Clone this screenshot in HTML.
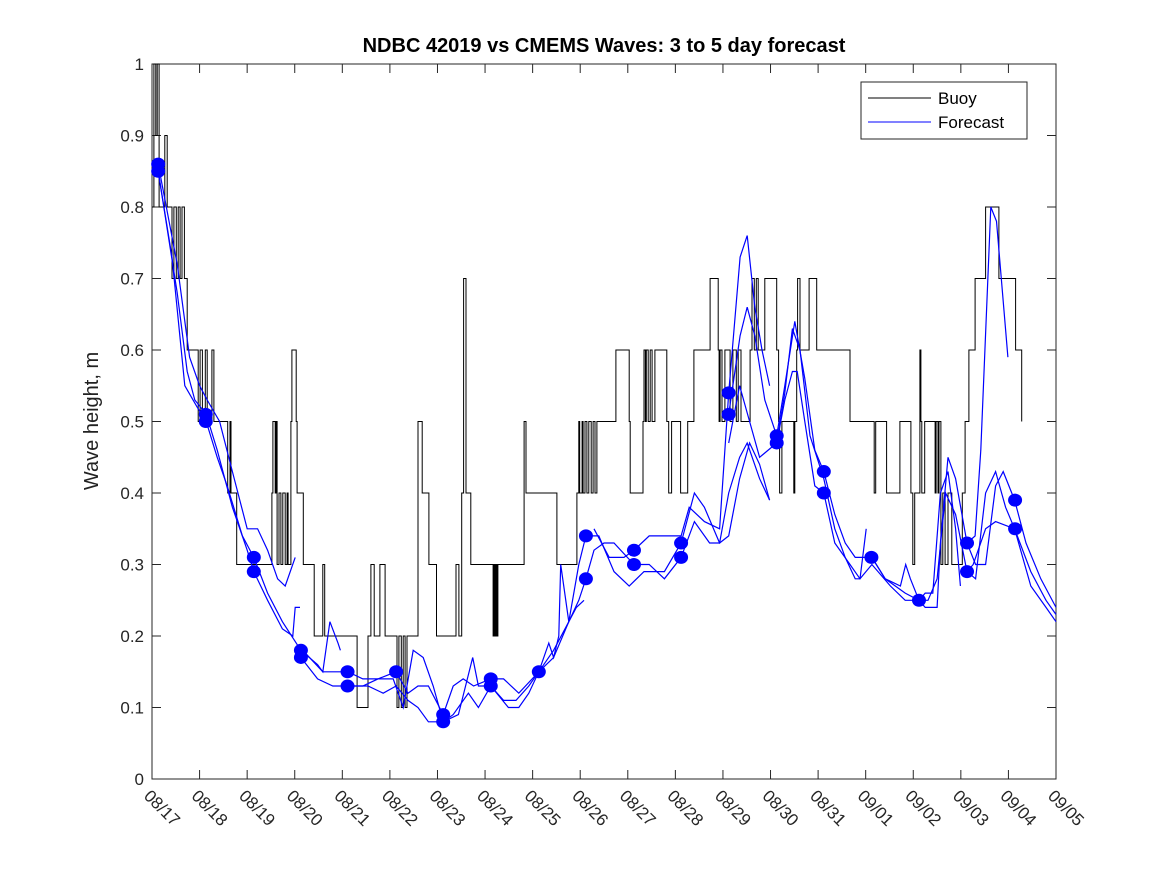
<!DOCTYPE html>
<html><head><meta charset="utf-8"><style>
html,body{margin:0;padding:0;background:#fff;}
svg{display:block;font-family:"Liberation Sans","DejaVu Sans",sans-serif;}
</style></head><body>
<svg id="chart" width="1167" height="875" viewBox="0 0 1167 875" xmlns="http://www.w3.org/2000/svg">
<rect width="1167" height="875" fill="#fff"/>
<text x="604" y="52" text-anchor="middle" font-size="20" font-weight="bold" fill="#000">NDBC 42019 vs CMEMS Waves: 3 to 5 day forecast</text>
<text transform="translate(98,421) rotate(-90)" text-anchor="middle" font-size="20" fill="#222">Wave height, m</text>
<g id="plot"></g>
</svg>
<script>
const xTickLabels=["08/17","08/18","08/19","08/20","08/21","08/22","08/23","08/24","08/25","08/26","08/27","08/28","08/29","08/30","08/31","09/01","09/02","09/03","09/04","09/05"];
const yTicks=[0,0.1,0.2,0.3,0.4,0.5,0.6,0.7,0.8,0.9,1];
const yTickLabels=["0","0.1","0.2","0.3","0.4","0.5","0.6","0.7","0.8","0.9","1"];
const buoyDays=[0,0.04,0.08,0.11,0.15,0.27,0.32,0.42,0.46,0.51,0.55,0.59,0.63,0.68,0.74,0.97,1.01,1.06,1.12,1.16,1.26,1.30,1.59,1.64,1.66,1.78,2.52,2.54,2.59,2.61,2.63,2.67,2.71,2.75,2.80,2.84,2.86,2.92,2.94,3.03,3.05,3.18,3.41,3.59,3.63,4.31,4.54,4.60,4.67,4.79,4.90,5.15,5.19,5.24,5.28,5.32,5.36,5.59,5.68,5.82,5.98,6.39,6.45,6.51,6.55,6.60,6.70,7.17,7.19,7.21,7.23,7.25,7.27,7.82,7.86,8.51,8.93,8.97,8.99,9.04,9.06,9.10,9.14,9.18,9.23,9.27,9.31,9.35,9.56,9.75,10.03,10.05,10.32,10.34,10.37,10.39,10.43,10.47,10.51,10.57,10.82,10.86,10.92,11.11,11.26,11.39,11.73,11.90,11.92,11.94,11.98,12.04,12.15,12.21,12.28,12.32,12.38,12.57,12.59,12.61,12.66,12.70,12.74,12.88,13.13,13.17,13.19,13.24,13.49,13.51,13.55,13.57,13.62,13.81,13.97,14.63,14.67,15.18,15.21,15.44,15.72,15.95,15.99,16.03,16.14,16.16,16.18,16.24,16.46,16.48,16.52,16.54,16.58,16.62,16.67,16.73,16.81,17.03,17.09,17.17,17.30,17.52,17.80,18.15,18.28];
const buoyValues=[0.8,1.0,0.9,1.0,0.8,0.9,0.8,0.7,0.8,0.7,0.8,0.7,0.8,0.7,0.6,0.5,0.6,0.5,0.6,0.5,0.6,0.5,0.4,0.5,0.4,0.3,0.4,0.5,0.4,0.5,0.3,0.4,0.3,0.4,0.3,0.4,0.3,0.5,0.6,0.5,0.4,0.3,0.2,0.3,0.2,0.1,0.2,0.3,0.2,0.3,0.2,0.1,0.2,0.1,0.2,0.1,0.2,0.5,0.4,0.3,0.2,0.3,0.2,0.4,0.7,0.4,0.3,0.2,0.3,0.2,0.3,0.2,0.3,0.5,0.4,0.3,0.4,0.5,0.4,0.5,0.4,0.5,0.4,0.5,0.4,0.5,0.4,0.5,0.5,0.6,0.5,0.4,0.5,0.6,0.5,0.6,0.5,0.6,0.5,0.6,0.5,0.4,0.5,0.4,0.5,0.6,0.7,0.6,0.5,0.6,0.5,0.6,0.5,0.6,0.5,0.6,0.5,0.6,0.6,0.7,0.6,0.7,0.6,0.7,0.6,0.5,0.4,0.5,0.4,0.5,0.6,0.7,0.6,0.7,0.6,0.6,0.5,0.4,0.5,0.4,0.5,0.4,0.3,0.4,0.6,0.5,0.4,0.5,0.4,0.5,0.4,0.5,0.3,0.4,0.3,0.4,0.3,0.4,0.5,0.6,0.7,0.8,0.7,0.6,0.5,0.4,0.5,0.5];
const fc01=[[0.13,0.86],[0.53,0.72],[0.79,0.59],[1.0,0.55],[1.16,0.53],[1.42,0.5],[1.69,0.43],[2.0,0.35],[2.22,0.35],[2.43,0.32],[2.64,0.28],[2.8,0.27],[3.01,0.31]];
const fc02=[[0.13,0.85],[0.53,0.68],[0.74,0.57],[0.9,0.53],[1.14,0.51],[1.37,0.46],[1.69,0.38],[2.0,0.32],[2.14,0.29],[2.43,0.25],[2.74,0.21],[2.96,0.2],[3.01,0.24],[3.11,0.24]];
const fc03=[[0.13,0.85],[0.42,0.73],[0.69,0.55],[0.95,0.52],[1.14,0.50],[1.37,0.45],[1.58,0.41],[1.9,0.34],[2.14,0.31],[2.43,0.26],[2.74,0.22],[3.13,0.18],[3.48,0.16],[3.59,0.15],[3.74,0.22],[3.91,0.19],[3.96,0.18]];
const fc04=[[3.13,0.17],[3.48,0.14],[3.8,0.13],[4.12,0.13],[4.54,0.13],[4.86,0.12],[5.13,0.13],[5.38,0.11],[5.59,0.1],[5.81,0.08],[6.12,0.08],[6.33,0.09],[6.65,0.12],[6.86,0.1],[7.12,0.13],[7.49,0.1],[7.71,0.1],[7.92,0.12],[8.13,0.15]];
const fc05=[[3.17,0.18],[3.59,0.15],[4.12,0.15],[4.43,0.14],[4.75,0.14],[5.13,0.15],[5.38,0.12],[5.59,0.13],[5.81,0.13],[6.12,0.09],[6.33,0.13],[6.54,0.14],[6.76,0.13],[7.12,0.14],[7.39,0.14],[7.71,0.12],[8.13,0.15],[8.44,0.18],[8.76,0.22],[8.97,0.25],[9.12,0.28]];
const fc06=[[4.12,0.13],[4.43,0.13],[4.75,0.14],[5.07,0.14],[5.28,0.1],[5.49,0.18],[5.7,0.17],[5.91,0.13],[6.12,0.08],[6.44,0.09],[6.74,0.17],[6.86,0.13],[7.12,0.13],[7.39,0.11],[7.65,0.11],[7.92,0.13],[8.13,0.15],[8.44,0.17],[8.76,0.22],[8.97,0.30],[9.12,0.34]];
const fc07=[[8.13,0.15],[8.34,0.19],[8.44,0.17],[8.55,0.20],[8.59,0.30],[8.76,0.22],[8.92,0.24],[9.08,0.25]];
const fc08=[[9.12,0.34],[9.39,0.34],[9.71,0.29],[10.03,0.27],[10.34,0.29],[10.77,0.29],[11.12,0.33],[11.4,0.40],[11.61,0.38],[11.93,0.33],[12.12,0.34],[12.35,0.42],[12.56,0.47],[12.77,0.44],[12.98,0.39]];
const fc09=[[9.12,0.28],[9.29,0.32],[9.5,0.33],[9.71,0.33],[10.13,0.30],[10.45,0.30],[10.77,0.28],[11.12,0.31],[11.4,0.36],[11.72,0.33],[11.93,0.33],[12.12,0.40],[12.35,0.45],[12.51,0.47],[12.77,0.42],[12.98,0.39]];
const fc10=[[9.29,0.35],[9.61,0.31],[9.92,0.31],[10.13,0.32],[10.45,0.34],[10.77,0.34],[11.12,0.34],[11.29,0.38],[11.61,0.36],[11.93,0.35],[12.12,0.54],[12.36,0.73],[12.51,0.76],[12.67,0.66],[12.82,0.6],[12.98,0.55]];
const fc11=[[12.12,0.51],[12.36,0.62],[12.51,0.66],[12.67,0.62],[12.88,0.53],[13.13,0.48],[13.3,0.55],[13.51,0.64],[13.72,0.56],[13.93,0.46],[14.12,0.43],[14.35,0.37],[14.57,0.33],[14.78,0.31],[15.13,0.31],[15.41,0.28],[15.83,0.26],[16.12,0.25],[16.25,0.24],[16.5,0.24],[16.57,0.33],[16.73,0.45],[16.89,0.42],[17.13,0.33],[17.31,0.30],[17.52,0.30],[17.73,0.41],[17.89,0.43],[18.13,0.39],[18.37,0.33],[18.68,0.28],[19.0,0.24]];
const fc12=[[12.12,0.47],[12.35,0.55],[12.56,0.5],[12.77,0.45],[13.13,0.47],[13.3,0.53],[13.46,0.57],[13.56,0.57],[13.72,0.5],[13.93,0.41],[14.12,0.40],[14.35,0.33],[14.67,0.3],[14.88,0.28],[15.13,0.30],[15.52,0.27],[15.83,0.25],[16.12,0.25],[16.31,0.25],[16.5,0.28],[16.68,0.40],[16.89,0.37],[17.13,0.29],[17.26,0.3],[17.52,0.35],[17.73,0.36],[18.13,0.35],[18.47,0.29],[18.79,0.25],[19.0,0.23]];
const fc13=[[13.13,0.47],[13.3,0.54],[13.46,0.63],[13.62,0.60],[13.83,0.48],[14.12,0.42],[14.35,0.35],[14.57,0.31],[14.78,0.28],[14.88,0.28],[15.01,0.35]];
const fc14=[[15.13,0.31],[15.41,0.28],[15.73,0.27],[15.84,0.30],[15.94,0.28],[16.12,0.25],[16.25,0.26],[16.41,0.26],[16.57,0.4],[16.73,0.43],[16.89,0.35],[16.99,0.27]];
const fc15=[[17.13,0.33],[17.3,0.34],[17.42,0.46],[17.63,0.80],[17.75,0.78],[17.99,0.59]];
const fc16=[[17.13,0.29],[17.31,0.28],[17.52,0.40],[17.73,0.43],[17.94,0.38],[18.13,0.35],[18.47,0.27],[18.79,0.24],[19.0,0.22]];
const forecastStartDays=[0.13,0.13,1.13,1.13,2.14,2.14,3.13,3.13,4.11,4.11,5.13,6.12,6.12,7.12,7.12,8.13,9.12,9.12,10.13,10.13,11.12,11.12,12.12,12.12,13.13,13.13,14.12,14.12,15.12,16.12,17.13,17.13,18.14,18.14];
const forecastStartValues=[0.86,0.85,0.51,0.50,0.31,0.29,0.18,0.17,0.15,0.13,0.15,0.09,0.08,0.14,0.13,0.15,0.34,0.28,0.32,0.30,0.33,0.31,0.54,0.51,0.48,0.47,0.43,0.40,0.31,0.25,0.33,0.29,0.39,0.35];

const L=152,R=1056,T=64,B=779,NS="http://www.w3.org/2000/svg";
const NDAYS=xTickLabels.length-1;
const xs=d=>L+d*(R-L)/NDAYS;
const ys=v=>B-v*(B-T);
const g=document.getElementById('plot');
function mk(tag,attrs){const e=document.createElementNS(NS,tag);for(const k in attrs)e.setAttribute(k,attrs[k]);g.appendChild(e);return e;}

const box=mk('rect',{x:L,y:T,width:R-L,height:B-T,fill:'none',stroke:'#262626','stroke-width':1});


xTickLabels.forEach((lab,i)=>{
  const x=xs(i);
  const t1=mk('line',{x1:x,y1:B,x2:x,y2:B-9,stroke:'#262626'});
  
  
  const t2=mk('line',{x1:x,y1:T,x2:x,y2:T+9,stroke:'#262626'});
  
  
  const tx=mk('text',{x:x-9,y:797,'font-size':17,fill:'#262626',transform:`rotate(45 ${x-9} 797)`});
  tx.textContent=lab;
  
  
});
yTicks.forEach((v,i)=>{
  const y=ys(v);
  const t1=mk('line',{x1:L,y1:y,x2:L+9,y2:y,stroke:'#262626'});
  
  
  const t2=mk('line',{x1:R,y1:y,x2:R-9,y2:y,stroke:'#262626'});
  
  
  const tx=mk('text',{x:L-8,y:y+6,'font-size':17,'text-anchor':'end',fill:'#262626'});
  tx.textContent=yTickLabels[i];
  
  
});

let p='';
buoyDays.forEach((d,i)=>{
  const x=xs(d).toFixed(1),y=ys(buoyValues[i]).toFixed(1);
  if(i===0)p+=`M${x},${y}`;else p+=`H${x}V${y}`;
});
const bl=mk('path',{d:p,fill:'none',stroke:'#000','stroke-width':1});



[fc01,fc02,fc03,fc04,fc05,fc06,fc07,fc08,fc09,fc10,fc11,fc12,fc13,fc14,fc15,fc16].forEach(s=>{
  const pl=mk('polyline',{points:s.map(q=>xs(q[0]).toFixed(1)+','+ys(q[1]).toFixed(1)).join(' '),fill:'none',stroke:'#0000ff','stroke-width':1.2});
  
  
});
forecastStartDays.forEach((d,i)=>{
  const c=mk('ellipse',{cx:xs(d),cy:ys(forecastStartValues[i]),rx:7,ry:6.5,fill:'#0000ff'});
  
  
});

const lg=mk('rect',{x:861,y:82,width:166,height:57,fill:'#fff',stroke:'#262626','stroke-width':1});


const l1=mk('line',{x1:868,y1:98,x2:931,y2:98,stroke:'#000'});


const t1=mk('text',{x:938,y:104,'font-size':17,fill:'#000'});t1.textContent='Buoy';


const l2=mk('line',{x1:868,y1:122,x2:931,y2:122,stroke:'#0000ff'});


const t2=mk('text',{x:938,y:128,'font-size':17,fill:'#000'});t2.textContent='Forecast';


</script>
</body></html>
